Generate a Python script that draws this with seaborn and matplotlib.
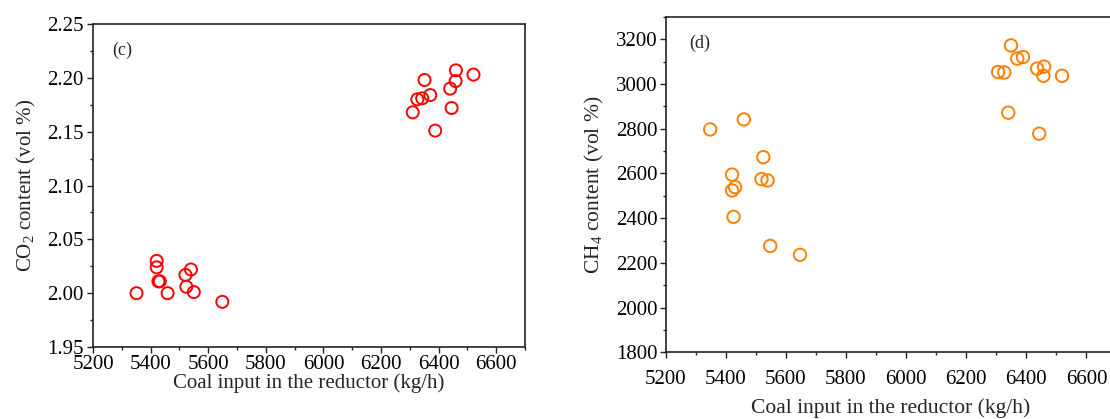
import numpy as np
import pandas as pd
import matplotlib
matplotlib.use("Agg")
import matplotlib.pyplot as plt
import seaborn as sns
from matplotlib.ticker import MultipleLocator

# ---- data ----
co2_coal = [5351, 5421, 5421, 5427, 5432, 5459, 5521, 5540, 5524, 5550, 5649,
            6310, 6326, 6343, 6351, 6371, 6388, 6440, 6445, 6460, 6459, 6521]
co2_value = [2.000, 2.030, 2.024, 2.011, 2.011, 2.000, 2.017, 2.022, 2.006, 2.001, 1.992,
             2.168, 2.180, 2.181, 2.198, 2.184, 2.151, 2.190, 2.172, 2.207, 2.197, 2.203]

ch4_coal = [5348, 5460, 5525, 5421, 5421, 5431, 5519, 5539, 5426, 5548, 5647,
            6349, 6370, 6389, 6306, 6327, 6436, 6459, 6457, 6519, 6340, 6443]
ch4_value = [2797, 2842, 2673, 2595, 2524, 2539, 2575, 2569, 2406, 2276, 2236,
             3173, 3114, 3121, 3054, 3052, 3069, 3078, 3037, 3037, 2872, 2778]

x_ticks = [5200, 5400, 5600, 5800, 6000, 6200, 6400, 6600]
co2_ticks = [1.95, 2.00, 2.05, 2.10, 2.15, 2.20, 2.25]
ch4_ticks = [1800, 2000, 2200, 2400, 2600, 2800, 3000, 3200]

xlabel = "Coal input in the reductor (kg/h)"
co2_label = "CO$_2$ content (vol %)"
ch4_label = "CH$_4$ content (vol %)"

sns.set_style("ticks")
plt.rcParams['font.family'] = ['Liberation Serif', 'DejaVu Serif']
plt.rcParams['mathtext.fontset'] = 'custom'
plt.rcParams['mathtext.rm'] = 'Liberation Serif'
plt.rcParams['mathtext.it'] = 'Liberation Serif:italic'

fig = plt.figure(figsize=(11.10, 4.19), dpi=100)
ax1 = fig.add_axes([0.0838, 0.1718, 0.3892, 0.7709])
ax2 = fig.add_axes([0.5997, 0.1592, 0.4061, 0.8002])

df1 = pd.DataFrame({"coal": co2_coal, "val": co2_value})
df2 = pd.DataFrame({"coal": ch4_coal, "val": ch4_value})

sns.scatterplot(data=df1, x="coal", y="val", ax=ax1, marker="o", s=75,
                facecolor="none", edgecolor="#FF0000", linewidth=1.4, zorder=3)
sns.scatterplot(data=df2, x="coal", y="val", ax=ax2, marker="o", s=80,
                facecolor="none", edgecolor="#FF8000", linewidth=1.4, zorder=3)

ax1.set_xlim(5200, 6700)
ax1.set_ylim(1.95, 2.25)
ax1.set_xticks(x_ticks)
ax1.set_yticks(co2_ticks)
ax1.set_yticklabels([f"{v:.2f}" for v in co2_ticks])
ax1.xaxis.set_minor_locator(MultipleLocator(100))
ax1.yaxis.set_minor_locator(MultipleLocator(0.025))

ax2.set_xlim(5200, 6700)
ax2.set_ylim(1800, 3300)
ax2.set_xticks(x_ticks)
ax2.set_yticks(ch4_ticks)
ax2.xaxis.set_minor_locator(MultipleLocator(100))
ax2.yaxis.set_minor_locator(MultipleLocator(100))

for ax in (ax1, ax2):
    for sp in ax.spines.values():
        sp.set_linewidth(1.2)
        sp.set_color("#222222")
    ax.tick_params(which="major", direction="out", length=4.5, width=1.0,
                   labelsize=15, pad=1.5, colors="#222222", labelcolor="black")
    ax.tick_params(which="minor", direction="out", length=2.5, width=1.0,
                   colors="#222222")

ax1.tick_params(axis="x", which="major", pad=1.5)
ax1.tick_params(axis="y", which="major", pad=2.5)
ax2.tick_params(axis="x", which="major", pad=8)

ax1.set_xlabel(xlabel, fontsize=15, labelpad=-1)
ax1.set_ylabel(co2_label, fontsize=15, labelpad=6)
ax2.set_xlabel(xlabel, fontsize=15.5, labelpad=7)
ax2.set_ylabel(ch4_label, fontsize=15.5, labelpad=7)

ax1.text(0.067, 0.92, "(c)", transform=ax1.transAxes, fontsize=13,
         ha="center", va="center")
ax2.text(0.076, 0.92, "(d)", transform=ax2.transAxes, fontsize=13,
         ha="center", va="center")

fig.savefig("out.png", dpi=100)
